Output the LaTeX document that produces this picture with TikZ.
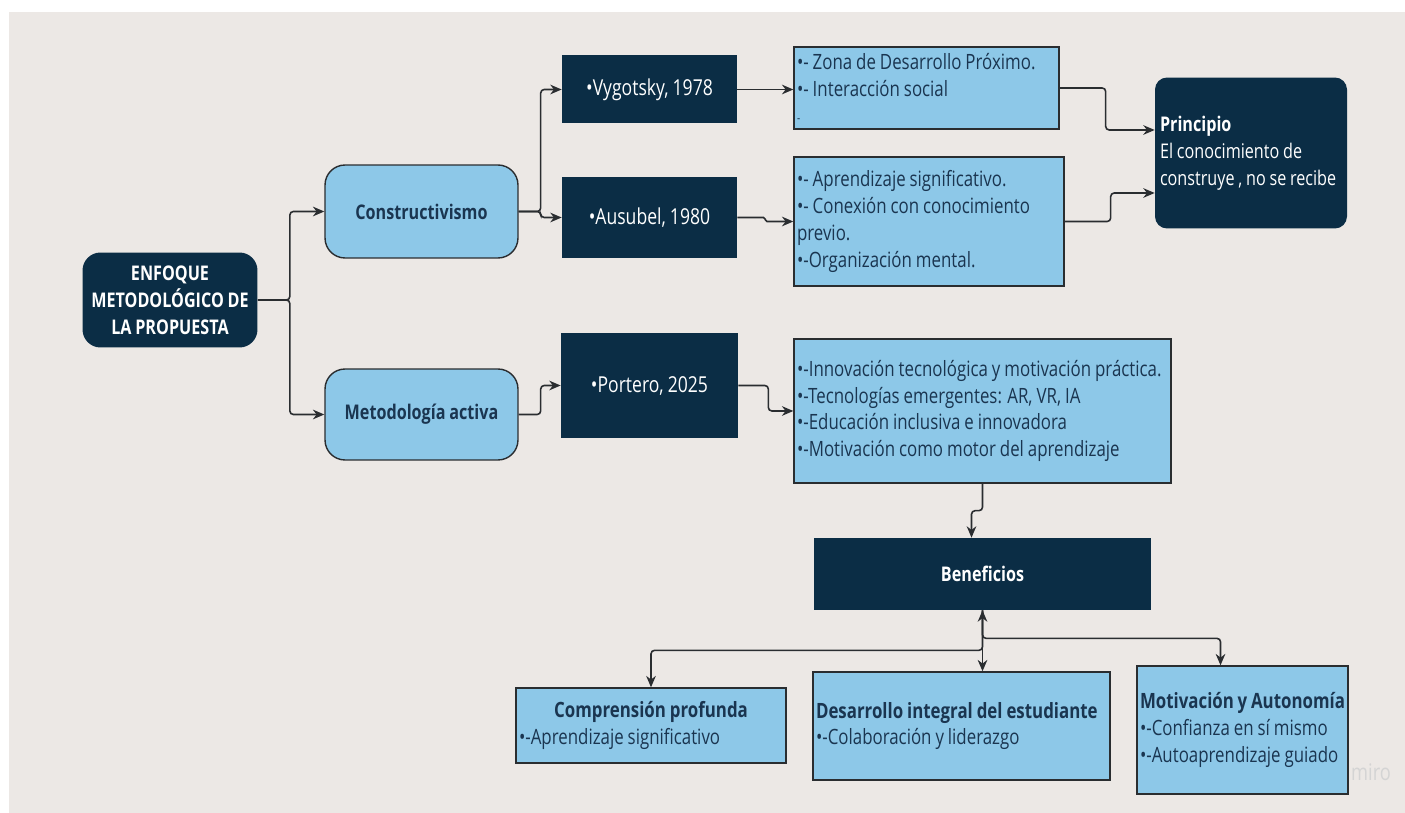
\documentclass[tikz,border=0pt]{standalone}
\usepackage{fontspec}
\setmainfont[FakeStretch=0.8,WordSpace=0.9]{Open Sans}
\usetikzlibrary{calc,arrows.meta}
\definecolor{navy}{HTML}{0B2D45}
\definecolor{skyblue}{HTML}{8DC8E8}
\definecolor{paper}{HTML}{ECE8E5}
\definecolor{edge}{HTML}{2A2D30}
\definecolor{ink}{HTML}{1A3550}

\begin{document}
\begin{tikzpicture}[x=0.02cm,y=-0.02cm,>={Stealth[length=6.5pt,width=5.5pt]}]
        \tikzstyle{txt}=[font=\fontsize{12}{15.3}\selectfont]
        \tikzstyle{darkbox}=[txt,fill=navy,text=white,inner xsep=0.06cm,align=center]
        \tikzstyle{roundbox}=[fill=skyblue,draw=edge,line width=0.8pt,text=ink,rounded corners=0.4cm,align=center,font=\fontsize{11.5}{15.3}\selectfont\bfseries]
        \tikzstyle{lightbox}=[txt,fill=skyblue,draw=edge,line width=0.8pt,text=ink,inner xsep=0.06cm,align=flush left]
        \tikzstyle{link}=[->,edge,line width=0.9pt,rounded corners=2pt]

        % Background
        \useasboundingbox (0,0) rectangle (1405,813);
        \fill[paper] (9,12) rectangle (1405,813);

        % Root and branches
        \node[darkbox,rounded corners=0.36cm,minimum width=3.5cm,minimum height=1.9cm,font=\fontsize{11.5}{15.3}\selectfont\bfseries] (enf) at (170,300) {ENFOQUE\\METODOLÓGICO DE\\LA PROPUESTA};
        \node[roundbox,minimum width=3.86cm,minimum height=1.86cm] (cons) at (421.5,211.5) {Constructivismo};
        \node[roundbox,minimum width=3.86cm,minimum height=1.82cm] (meto) at (421.5,414.5) {Metodología activa};

        % Authors
        \node[darkbox,minimum width=3.5cm,minimum height=1.36cm,font=\fontsize{12.5}{15.3}\selectfont] (vyg) at (649.5,89.5) {•Vygotsky, 1978};
        \node[darkbox,minimum width=3.5cm,minimum height=1.62cm,font=\fontsize{12.5}{15.3}\selectfont] (aus) at (649.5,217.5) {•Ausubel, 1980};
        \node[darkbox,minimum width=3.54cm,minimum height=2.1cm,font=\fontsize{12.5}{15.3}\selectfont] (por) at (649.5,385.5) {•Portero, 2025};

        % Ideas
        \node[lightbox,text width=5.18cm,minimum height=1.52cm] (zona) at (926.5,88) {•- Zona de Desarrollo Próximo.\\•- Interacción social\\{\scriptsize -}};
        \node[lightbox,text width=5.28cm,minimum height=2.58cm] (apr) at (929,221.5) {•- Aprendizaje significativo.\\•- Conexión con conocimiento\\previo.\\•-Organización mental.};
        \node[lightbox,text width=7.42cm,minimum height=2.88cm] (inn) at (982.5,411) {•-Innovación tecnológica y motivación práctica.\\•-Tecnologías emergentes: AR, VR, IA\\•-Educación inclusiva e innovadora\\•-Motivación como motor del aprendizaje};

        % Principle
        \node[darkbox,rounded corners=0.24cm,align=flush left,inner xsep=0.1cm,text width=3.64cm,minimum height=3.02cm,font=\fontsize{11.5}{15.3}\selectfont] (pri) at (1251,153) {\textbf{Principio}\\El conocimiento de\\construye , no se recibe};

        % Benefits
        \node[darkbox,minimum width=6.74cm,minimum height=1.44cm,font=\fontsize{11.5}{15.3}\selectfont\bfseries] (ben) at (982.5,574) {Beneficios};
        \node[lightbox,text width=5.28cm,minimum height=1.5cm] (com) at (651,725.5) {\makebox[5.28cm]{\bfseries Comprensión profunda}\\•-Aprendizaje significativo};
        \node[lightbox,text width=5.82cm,minimum height=2.16cm] (des) at (961.5,726) {\textbf{Desarrollo integral del estudiante}\\•-Colaboración y liderazgo};
        \node[lightbox,text width=4.1cm,minimum height=2.56cm] (mot) at (1242.5,730) {\textbf{Motivación y Autonomía}\\•-Confianza en sí mismo\\•-Autoaprendizaje guiado};

        \node[text=black!17,font=\fontsize{13}{13}\selectfont] (miro) at (1371,772) {miro};

        % Connectors
        \draw[link] (enf.east) -- ++(32,0) |- (cons.west);
        \draw[link] (enf.east) -- ++(32,0) |- (meto.west);
        \draw[link] (cons.east) -- ++(22,0) |- (vyg.west);
        \draw[link] (cons.east) -- ++(22,0) |- (aus.west);
        \draw[link] (meto.east) -- ++(22,0) |- (por.west);
        \draw[link] (vyg.east) -- (vyg.east -| zona.west);
        \draw[link,rounded corners=1pt] (aus.east) -- ++(28,0) |- (apr.west);
        \draw[link] (por.east) -- ++(30,0) |- (inn.west);
        \draw[link] (zona.east) -- ++(46,0) |- ($(pri.west)+(0,-23)$);
        \draw[link] (apr.east) -- ++(46,0) |- ($(pri.west)+(0,40)$);
        \draw[link] (inn.south) -- ++(0,27) -| ($(ben.north)+(-11,0)$);
        \draw[link,<->] (ben.south) -- (ben.south |- des.north);
        \draw[link] (ben.south) -- ++(0,40) -| (com.north);
        \draw[link] (ben.south) -- ++(0,28) -| ($(mot.north)+(-22,0)$);
\end{tikzpicture}
\end{document}
